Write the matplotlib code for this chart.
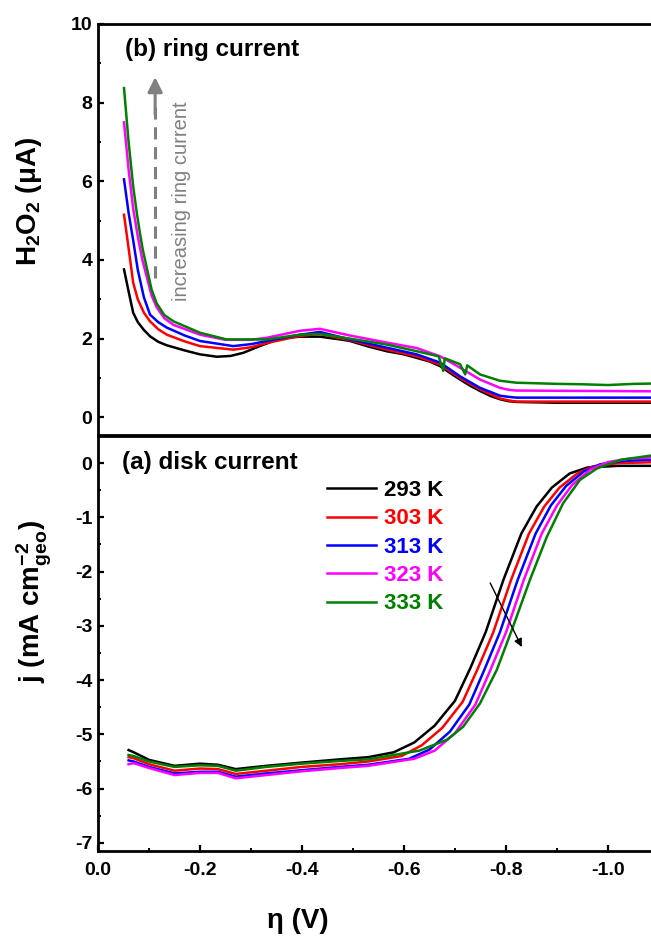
import matplotlib
matplotlib.use("Agg")
from matplotlib import pyplot as plt
from matplotlib.ticker import MultipleLocator

plt.rcParams['font.family'] = ['Liberation Sans', 'DejaVu Sans']
plt.rcParams['font.weight'] = 'bold'
plt.rcParams['axes.unicode_minus'] = False
plt.rcParams['mathtext.fontset'] = 'custom'
plt.rcParams['mathtext.rm'] = 'Liberation Sans:bold'
plt.rcParams['mathtext.bf'] = 'Liberation Sans:bold'
plt.rcParams['mathtext.it'] = 'Liberation Sans:bold'
plt.rcParams['mathtext.default'] = 'bf'

labels = ['293 K', '303 K', '313 K', '323 K', '333 K']
colors = ['#000000', '#ff0000', '#0000ff', '#ff00ff', '#008000']

# (b) ring current, H2O2 (uA) vs eta (V)
ring_x = [
    [-0.051, -0.06, -0.069, -0.078, -0.09, -0.102, -0.118, -0.135, -0.17, -0.2, -0.233, -0.26,
     -0.285, -0.315, -0.344, -0.37, -0.396, -0.435, -0.475, -0.494, -0.53, -0.566, -0.6, -0.625,
     -0.65, -0.671, -0.69, -0.71, -0.73, -0.749, -0.77, -0.788, -0.805, -0.821, -0.9, -1.1],
    [-0.051, -0.06, -0.069, -0.078, -0.09, -0.102, -0.118, -0.135, -0.17, -0.2, -0.265, -0.3,
     -0.331, -0.396, -0.435, -0.494, -0.566, -0.625, -0.671, -0.71, -0.749, -0.788, -0.805,
     -0.82, -1.1],
    [-0.051, -0.06, -0.069, -0.078, -0.09, -0.102, -0.118, -0.135, -0.17, -0.2, -0.265, -0.3,
     -0.331, -0.396, -0.435, -0.494, -0.566, -0.625, -0.671, -0.71, -0.749, -0.788, -0.805,
     -0.82, -1.1],
    [-0.051, -0.06, -0.069, -0.078, -0.087, -0.095, -0.105, -0.115, -0.13, -0.148, -0.2, -0.25,
     -0.3, -0.33, -0.396, -0.435, -0.494, -0.566, -0.625, -0.671, -0.71, -0.749, -0.788, -0.805,
     -0.82, -1.1],
    [-0.051, -0.06, -0.069, -0.076, -0.082, -0.088, -0.095, -0.105, -0.115, -0.13, -0.148, -0.2,
     -0.252, -0.331, -0.396, -0.435, -0.494, -0.566, -0.625, -0.668, -0.677, -0.68, -0.71, -0.72,
     -0.724, -0.749, -0.788, -0.82, -0.9, -0.95, -1.0, -1.05, -1.1],
]
ring_y = [
    [3.76, 3.2, 2.66, 2.42, 2.22, 2.06, 1.92, 1.83, 1.70, 1.60, 1.54, 1.56,
     1.64, 1.80, 1.94, 2.02, 2.05, 2.05, 1.98, 1.94, 1.80, 1.68, 1.60, 1.51,
     1.42, 1.30, 1.13, 0.96, 0.80, 0.67, 0.54, 0.46, 0.41, 0.39, 0.37, 0.37],
    [5.15, 4.3, 3.42, 3.0, 2.66, 2.44, 2.24, 2.1, 1.93, 1.81, 1.72, 1.78,
     1.89, 2.07, 2.12, 1.96, 1.72, 1.55, 1.34, 1.0, 0.71, 0.48, 0.43,
     0.40, 0.40],
    [6.05, 5.2, 4.5, 3.75, 3.05, 2.61, 2.42, 2.28, 2.08, 1.94, 1.81, 1.86,
     1.94, 2.1, 2.17, 1.98, 1.77, 1.60, 1.39, 1.04, 0.75, 0.55, 0.52,
     0.50, 0.50],
    [7.5, 6.3, 5.3, 4.6, 4.0, 3.6, 3.1, 2.8, 2.52, 2.35, 2.1, 1.97,
     1.97, 2.02, 2.2, 2.25, 2.08, 1.9, 1.76, 1.55, 1.26, 0.96, 0.75, 0.70,
     0.68, 0.66],
    [8.37, 7.0, 5.87, 5.2, 4.7, 4.25, 3.84, 3.25, 2.9, 2.6, 2.44, 2.15,
     1.98, 1.98, 2.1, 2.12, 2.0, 1.85, 1.68, 1.55, 1.18, 1.5, 1.35, 1.09,
     1.32, 1.09, 0.93, 0.88, 0.85, 0.84, 0.82, 0.85, 0.86],
]

# (a) disk current, j (mA cm-2) vs eta (V)
disk_x = [
    [-0.06, -0.07, -0.1, -0.15, -0.2, -0.235, -0.27, -0.33, -0.4, -0.475, -0.53, -0.58, -0.62,
     -0.66, -0.7, -0.73, -0.76, -0.795, -0.83, -0.86, -0.89, -0.925, -0.96, -1.02, -1.1],
    [-0.06, -0.07, -0.1, -0.15, -0.2, -0.235, -0.27, -0.33, -0.4, -0.475, -0.53, -0.595, -0.635,
     -0.675, -0.715, -0.745, -0.775, -0.81, -0.845, -0.875, -0.905, -0.94, -0.97, -1.02, -1.1],
    [-0.06, -0.07, -0.1, -0.15, -0.2, -0.235, -0.27, -0.33, -0.4, -0.475, -0.53, -0.61, -0.65,
     -0.69, -0.728, -0.758, -0.788, -0.823, -0.858, -0.888, -0.918, -0.953, -0.985, -1.03, -1.1],
    [-0.06, -0.07, -0.1, -0.15, -0.2, -0.235, -0.27, -0.33, -0.4, -0.475, -0.53, -0.62, -0.66,
     -0.7, -0.74, -0.77, -0.8, -0.835, -0.87, -0.9, -0.93, -0.965, -1.0, -1.04, -1.1],
    [-0.06, -0.07, -0.1, -0.15, -0.2, -0.235, -0.27, -0.33, -0.4, -0.475, -0.53, -0.63, -0.684,
     -0.716, -0.749, -0.782, -0.814, -0.847, -0.88, -0.912, -0.945, -0.978, -1.024, -1.1],
]
disk_y = [
    [-5.29, -5.33, -5.47, -5.58, -5.54, -5.56, -5.64, -5.58, -5.52, -5.46, -5.42, -5.33, -5.15,
     -4.84, -4.38, -3.78, -3.12, -2.15, -1.30, -0.80, -0.45, -0.19, -0.08, -0.05, -0.05],
    [-5.42, -5.44, -5.55, -5.67, -5.63, -5.64, -5.73, -5.67, -5.6, -5.55, -5.5, -5.4, -5.2,
     -4.88, -4.4, -3.78, -3.12, -2.15, -1.3, -0.8, -0.45, -0.19, -0.06, 0.0, 0.02],
    [-5.48, -5.5, -5.6, -5.72, -5.69, -5.69, -5.78, -5.72, -5.66, -5.6, -5.56, -5.45, -5.28,
     -4.95, -4.45, -3.8, -3.12, -2.15, -1.3, -0.78, -0.42, -0.15, -0.02, 0.04, 0.07],
    [-5.55, -5.53, -5.62, -5.75, -5.71, -5.71, -5.81, -5.75, -5.68, -5.62, -5.58, -5.45, -5.3,
     -4.98, -4.45, -3.8, -3.12, -2.15, -1.3, -0.78, -0.4, -0.12, 0.02, 0.08, 0.11],
    [-5.38, -5.4, -5.5, -5.6, -5.57, -5.58, -5.67, -5.6, -5.54, -5.49, -5.46, -5.3, -5.1,
     -4.86, -4.43, -3.81, -3.01, -2.15, -1.36, -0.74, -0.31, -0.10, 0.06, 0.16],
]

fig = plt.figure(figsize=(6.51, 9.36), dpi=100)
W, H = 651.0, 936.0
ax_top = fig.add_axes([98 / W, 1 - 435 / H, 561 / W, 411 / H])
ax_bot = fig.add_axes([98 / W, 1 - 851 / H, 561 / W, 415 / H])

for i in range(5):
    ax_top.plot(ring_x[i], ring_y[i], color=colors[i], lw=1.8)
    ax_bot.plot(disk_x[i], disk_y[i], color=colors[i], lw=1.8, label=labels[i])

for ax in (ax_top, ax_bot):
    ax.set_xlim(0, -1.1)
    for s in ax.spines.values():
        s.set_linewidth(2.0)
    ax.tick_params(which='major', direction='in', length=4, width=1.6, labelsize=14, pad=4)
    ax.tick_params(which='minor', direction='in', length=2.5, width=1.4)
    ax.xaxis.set_major_locator(MultipleLocator(0.2))
    ax.xaxis.set_minor_locator(MultipleLocator(0.1))

ax_top.set_ylim(-0.45, 10)
ax_top.yaxis.set_major_locator(MultipleLocator(2))
ax_top.yaxis.set_minor_locator(MultipleLocator(1))
ax_top.tick_params(axis='x', which='both', bottom=False, labelbottom=False)

ax_bot.set_ylim(-7.15, 0.5)
ax_bot.yaxis.set_major_locator(MultipleLocator(1))
ax_bot.yaxis.set_minor_locator(MultipleLocator(0.5))
ax_bot.tick_params(axis='x', which='major', pad=8)
ax_bot.xaxis.set_major_formatter(plt.FormatStrFormatter('%.1f'))

ax_top.text(0.048, 0.939, '(b) ring current', transform=ax_top.transAxes,
            fontsize=17.5, fontweight='bold', va='center', ha='left')
ax_bot.text(0.043, 0.937, '(a) disk current', transform=ax_bot.transAxes,
            fontsize=17.5, fontweight='bold', va='center', ha='left')

# dashed arrow in ring panel
ax_top.plot([-0.112, -0.112], [3.55, 7.9], color='#808080', lw=2.2, dashes=(4, 2.5))
ax_top.annotate('', xy=(-0.112, 8.65), xytext=(-0.112, 7.7),
                arrowprops=dict(arrowstyle='-|>', color='#808080', lw=2.2,
                                mutation_scale=22, shrinkA=0, shrinkB=0))
ax_top.text(-0.163, 5.5, 'increasing ring current', rotation=90, color='#808080',
            fontsize=14.5, fontweight='normal', ha='center', va='center')

# arrow in disk panel
ax_bot.annotate('', xy=(-0.831, -3.39), xytext=(-0.769, -2.21),
                arrowprops=dict(arrowstyle='-|>', color='black', lw=1.0,
                                mutation_scale=12, shrinkA=0, shrinkB=0))

leg = ax_bot.legend(loc='upper left', bbox_to_anchor=(0.408, 0.894), frameon=False,
                    prop={'weight': 'bold', 'size': 16}, handlelength=2.2,
                    handletextpad=0.35, labelspacing=0.33, borderpad=0, borderaxespad=0,
                    labelcolor='linecolor')

fig.text(29 / W, 1 - 201 / H, r'H$_2$O$_2$ ($\mathrm{\mu}$A)', rotation=90,
         fontsize=20, fontweight='bold', ha='center', va='center')
fig.text(34 / W, 1 - 602 / H, r'j (mA $cm^{-2}_{geo}$)', rotation=90,
         fontsize=20, fontweight='bold', ha='center', va='center')
fig.text(298 / W, 1 - 921 / H, 'η (V)', fontsize=20, fontweight='bold',
         ha='center', va='center')

plt.savefig('out.png', dpi=100)
